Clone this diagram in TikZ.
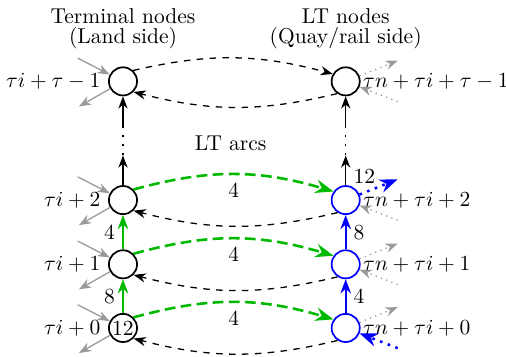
\documentclass[tikz,border=0pt]{standalone}
\usepackage{amsmath,amssymb}
\usepackage{xcolor}
\usepackage{tikz}
\usetikzlibrary{arrows.meta,positioning,calc}

\definecolor{arcgreen}{RGB}{0,185,0}

\begin{document}
\begin{tikzpicture}[
    >=Stealth,
    vnode/.style={draw, thick, circle, minimum size=0.46cm, inner sep=0pt},
    ltnode/.style={vnode, blue},
    waitarc/.style={->, arcgreen, very thick, dash pattern=on 5pt off 2.5pt},
    backarc/.style={->, semithick, dashed},
    landarc/.style={->, black!40, semithick},
    quayarc/.style={->, black!40, semithick, dotted},
    quayblue/.style={->, blue, very thick, dash pattern=on 1.2pt off 2.6pt},
    skipline/.style={semithick, dash pattern=on 1pt off 3.2pt}
]
    \useasboundingbox (0,0) rectangle (8.27,5.82);

    % headings
    \node[align=center] (headL) at (2.01,5.35) {Terminal nodes\\[-3pt](Land side)};
    \node[align=center] (headR) at (5.65,5.35) {LT nodes\\[-3pt](Quay/rail side)};
    \node (arcs) at (3.77,3.48) {LT arcs};

    % terminal nodes
    \node[vnode] (L0) at (2.01,0.46) {12};
    \node[vnode] (L1) at (2.01,1.50) {};
    \node[vnode] (L2) at (2.01,2.55) {};
    \node[vnode] (L3) at (2.01,4.49) {};

    % LT nodes
    \node[ltnode] (R0) at (5.65,0.46) {};
    \node[ltnode] (R1) at (5.65,1.50) {};
    \node[ltnode] (R2) at (5.65,2.55) {};
    \node[vnode] (R3) at (5.65,4.49) {};

    \node[left] (tL0) at (L0.west) {$\tau i+0$};
    \node[left] (tL1) at (L1.west) {$\tau i+1$};
    \node[left] (tL2) at (L2.west) {$\tau i+2$};
    \node[left] (tL3) at (L3.west) {$\tau i+\tau-1$};
    \node[right,inner sep=1pt] (tR0) at (R0.east) {$\tau n+\tau i+0$};
    \node[right,inner sep=1pt] (tR1) at (R1.east) {$\tau n+\tau i+1$};
    \node[right,inner sep=1pt] (tR2) at (R2.east) {$\tau n+\tau i+2$};
    \node[right,inner sep=1pt] (tR3) at (R3.east) {$\tau n+\tau i+\tau-1$};

    % time arcs
    \draw[->, arcgreen, thick] (L0) -- node[left,black]{8} (L1);
    \draw[->, arcgreen, thick] (L1) -- node[left,black]{4} (L2);
    \draw[->, blue, thick] (R0) -- node[right,black]{4} (R1);
    \draw[->, blue, thick] (R1) -- node[right,black]{8} (R2);

    \coordinate (la) at (2.01,3.28);
    \coordinate (lb) at (2.01,3.74);
    \coordinate (ra) at (5.65,3.28);
    \coordinate (rb) at (5.65,3.74);
    \draw[->, semithick] (L2) -- (la);
    \draw[skipline] (la) -- (lb);
    \draw[->, semithick] (lb) -- (L3);
    \draw[->, semithick] (R2) -- node[pos=0.3,right]{12} (ra);
    \draw[skipline] (ra) -- (rb);
    \draw[->, semithick] (rb) -- (R3);

    % LT arcs
    \foreach \i in {0,1,2} {
        \draw[waitarc] (L\i.45) to[bend left=16] node[below,black]{4} (R\i.145);
        \draw[backarc] (R\i.237) to[bend left=14] (L\i.-45);
    }
    \draw[backarc] (L3.47) to[bend left=14] (R3.150);
    \draw[backarc] (R3.235) to[bend left=14] (L3.-45);

    % land side in/out
    \foreach \i in {0,...,3} {
        \coordinate (Lin\i) at ($(L\i)+(-0.74,0.38)$);
        \coordinate (Lout\i) at ($(L\i)+(-0.72,-0.41)$);
        \draw[landarc] (Lin\i) -- (L\i);
        \draw[landarc] (L\i) -- (Lout\i);
        \coordinate (Rout\i) at ($(R\i)+(0.85,0.34)$);
        \coordinate (Rin\i) at ($(R\i)+(0.85,-0.33)$);
    }

    % quay side in/out
    \draw[quayarc] (R0) -- (Rout0);
    \draw[quayarc] (R1) -- (Rout1);
    \draw[quayblue] (R2) -- (Rout2);
    \draw[quayarc] (R3) -- (Rout3);
    \draw[quayblue] (Rin0) -- (R0);
    \draw[quayarc] (Rin1) -- (R1);
    \draw[quayarc] (Rin2) -- (R2);
    \draw[quayarc] (Rin3) -- (R3);
\end{tikzpicture}
\end{document}
